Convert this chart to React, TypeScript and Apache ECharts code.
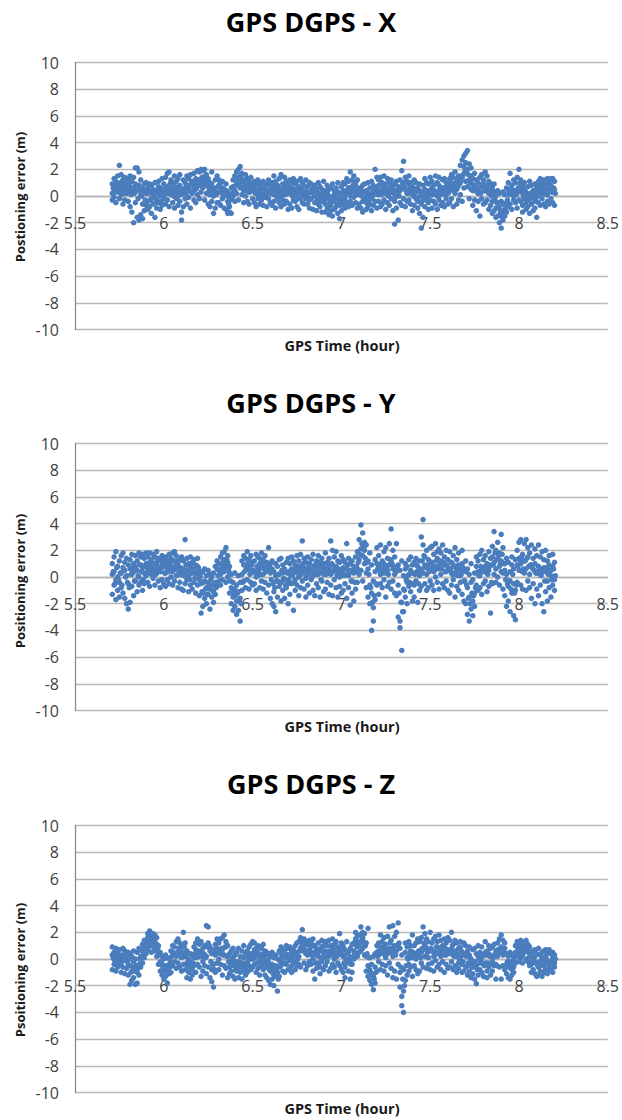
import React, { useEffect, useRef } from "react";
import * as echarts from "echarts";

// Sampling of the epochs: readings every 0.01 h from 5.71 h (3 per epoch),
// plus one extra reading per epoch half a step later
const EPOCH_START = 5.71;
const EPOCH_STEP = 0.01;
const PER_EPOCH = 3;

const X_TICKS = [5.5, 6, 6.5, 7, 7.5, 8, 8.5];
const Y_TICKS = [-10, -8, -6, -4, -2, 0, 2, 4, 6, 8, 10];

const TITLES = ["GPS DGPS - X", "GPS DGPS - Y", "GPS DGPS - Z"];
const Y_NAMES = ["Postioning error (m)", "Positioning error (m)", "Psoitioning error (m)"];
const X_NAME = "GPS Time (hour)";

// X error (m)
const ERR_X = [
  0.9,0.2,-0.3, 1.3,0.5,-0.1, 0.6,1.1,-0.5, 1.5,0.3,0.8, 2.3,0.7,-0.2, 1.0,0.1,1.6, 0.4,1.2,-0.6, 0.8,-0.3,1.4, 0.2,1.0,0.6, 1.3,-0.4,0.5,
  0.7,-0.8,1.5, 0.3,1.1,-1.2, -2.0,0.5,1.4, 2.1,0.9,-0.5, 2.1,-1.6,0.4, 1.8,-1.8,0.8, -1.4,1.2,0.1, -1.7,0.6,-0.6, 0.9,-1.1,0.3, 0.2,1.0,-0.7,
  -0.4,0.6,-1.0, 0.3,-0.8,0.9, -0.2,0.8,-1.3, 0.5,-0.6,0.1, -1.6,0.2,1.0, -0.9,0.4,-0.3, 0.7,-0.5,1.1, -1.0,0.1,0.6, 0.4,-0.7,1.3, 0.9,-0.2,0.3,
  1.4,0.2,-0.6, 0.7,1.7,-0.3, 1.8,0.4,-0.8, 0.1,1.2,0.6, 1.0,-0.5,0.4, 1.5,0.3,-0.9, 0.6,-0.2,1.1, 1.3,0.0,-0.7, -0.4,0.8,1.6, -1.8,0.5,-1.2,
  0.3,-0.8,1.2, 1.0,-0.2,0.6, 0.8,1.5,-0.6, -0.1,0.7,1.3, 1.6,0.4,-0.9, 0.2,1.1,0.9, 1.7,-0.3,0.6, 0.5,1.3,-0.5, 1.9,0.8,0.1, 1.2,-0.2,1.8,
  2.0,1.0,0.3, 1.9,0.6,1.4, 2.0,-0.3,0.9, 1.2,0.2,1.6, 0.7,-0.6,1.3, 0.1,1.0,-0.8, 0.9,-0.4,1.8, -1.3,0.5,0.0, 0.6,-0.9,1.2, 1.5,0.2,-0.5,
  0.8,-0.5,1.2, 0.3,1.0,-0.7, -0.2,0.6,1.1, 0.5,-0.9,0.2, -1.0,0.4,0.9, -1.3,-0.4,0.3, -0.8,0.1,-1.2, 0.6,-1.3,-0.2, 1.2,0.0,0.7, 0.4,1.5,-0.4,
  1.8,0.9,0.2, 1.3,2.0,-0.3, 2.2,0.6,1.5, 1.0,1.7,0.1, 0.4,1.2,-0.5, 1.6,0.7,0.0, 0.8,-0.4,1.3, 1.1,0.3,-0.6, 0.5,1.4,0.9, -0.2,0.9,0.4,
  0.7,-0.5,1.1, 0.2,1.0,-0.8, 1.2,0.4,-0.2, -0.6,0.8,0.1, 0.5,-0.3,1.0, 1.1,0.0,-0.7, -0.1,0.6,0.9, 0.4,-0.8,0.2, 0.9,-0.2,1.2, -0.5,0.3,0.7,
  0.6,-0.7,1.0, 1.5,0.1,-0.4, 0.3,1.1,-0.9, -0.2,0.8,0.4, 1.3,-0.5,0.6, 0.0,1.6,-0.8, 0.9,0.2,-0.3, 1.4,-0.6,0.5, -0.4,0.7,1.1, 0.2,-1.0,0.8,
  1.2,0.3,-0.6, 0.6,-0.9,1.0, -0.3,0.5,1.3, 0.9,-0.4,0.1, 0.2,1.1,-0.8, -1.0,0.4,0.7, 0.5,1.3,-0.2, 1.0,-0.5,0.3, -0.6,0.8,0.0, 0.4,-0.2,1.2,
  0.7,-0.6,0.2, -0.3,1.0,-0.9, 0.4,-0.2,0.9, -1.0,0.3,0.6, 0.8,-0.5,0.0, -0.4,0.5,-1.1, 0.2,1.0,-0.6, -0.8,0.0,0.7, 0.5,-1.2,-0.2, 1.1,-0.4,0.3,
  -0.6,0.4,-1.2, 0.2,-0.9,0.8, -1.4,-0.2,0.5, 0.6,-0.7,-1.1, -0.3,0.9,-1.5, 0.1,-1.0,0.4, -0.8,0.6,-0.2, -1.3,0.3,1.0, -1.7,-0.5,0.2, 0.7,-1.1,-0.3,
  0.4,-0.6,1.0, -0.2,0.9,-0.9, 1.3,0.2,-0.5, 0.6,-0.8,1.1, 1.8,0.0,-0.4, 1.2,0.5,-0.7, -0.1,1.5,0.3, 0.8,-0.5,1.0, 0.2,1.2,-0.9, -0.6,0.6,0.1,
  0.5,-0.9,0.1, -0.4,0.8,-1.2, 0.9,-0.3,0.3, -1.0,0.4,-0.5, 0.2,1.0,-0.8, -0.6,0.6,0.0, 1.1,-0.2,-1.1, 0.3,-0.7,0.8, 2.0,0.5,-0.4, 1.4,-0.9,0.2,
  0.8,-0.4,1.2, 0.1,1.4,-0.8, 1.0,-0.6,0.4, -0.3,0.7,1.5, 0.5,-1.0,0.9, 1.3,0.2,-0.5, -0.7,0.6,1.0, 0.3,1.2,-0.2, -1.1,0.5,0.8, -2.1,0.9,-0.4,
  0.4,-0.9,1.1, -1.8,0.2,0.7, 1.2,-0.5,0.4, 1.9,0.6,-0.7, 2.6,1.0,-0.2, 1.4,-0.8,0.5, 0.2,1.1,-0.4, 0.9,-0.3,1.5, -0.6,0.4,1.0, 0.7,-1.1,0.1,
  0.3,-0.7,1.2, 1.0,-0.2,0.5, -0.9,0.6,-0.4, 0.4,-1.3,0.9, -2.4,0.2,-0.6, -1.6,0.8,0.0, 0.5,-0.8,1.3, -0.3,1.0,0.3, 0.9,-0.5,-1.0, 0.1,1.4,-0.3,
  0.6,-0.9,1.1, -0.4,0.8,0.2, 1.5,0.3,-0.6, 0.0,1.0,-1.0, 0.8,-0.3,1.4, -0.7,0.5,0.1, 1.2,-0.5,0.6, 0.3,1.3,-0.8, -0.2,0.7,1.0, 0.9,-0.6,0.2,
  0.4,1.3,-0.5, 1.0,-0.2,1.6, 0.7,1.4,-0.8, 1.8,0.2,0.9, 0.5,-0.6,1.2, 1.5,0.8,-0.3, 2.3,0.1,1.0, 2.7,1.4,-0.4, 3.0,2.2,0.6, 3.2,2.5,1.1,
  3.4,2.0,0.7, 2.4,1.2,-0.2, 2.1,0.5,1.5, 1.3,-0.7,0.4, 0.8,1.7,-0.3, -1.1,0.5,1.2, 1.0,-0.4,0.2, 0.3,1.4,-1.5, 1.6,-0.2,0.8, -0.6,0.9,1.2,
  1.8,0.4,-0.5, 1.5,-0.3,0.8, 0.2,1.1,-1.0, 0.9,-0.7,0.3, -0.4,0.6,-1.3, 0.3,-1.1,0.9, -0.9,0.0,-1.6, -1.5,-0.5,0.4, -2.0,-0.9,0.2, -2.4,-1.3,-0.4,
  -1.8,-0.6,0.3, -1.0,0.1,-1.5, -0.5,0.6,-1.2, 0.4,-0.8,1.0, 1.7,0.2,-0.6, 0.8,-1.0,0.5, -0.3,1.2,0.0, 1.0,-0.5,0.4, 0.3,1.4,-0.9, 2.0,0.6,-0.3,
  1.2,-0.4,0.3, -0.7,0.8,-1.2, 0.5,-0.2,1.0, -1.0,0.3,-0.5, 0.7,-0.8,0.1, -0.3,1.1,-1.3, 0.2,-0.6,0.8, -1.1,0.4,0.0, 0.9,-0.4,-0.9, -1.6,0.3,0.6,
  0.8,-0.5,1.1, 0.2,1.3,-0.7, 1.0,-0.2,0.5, -0.6,0.7,1.2, 0.4,-0.8,0.9, 1.3,0.1,-0.4, 0.6,1.0,-0.6, -0.2,0.8,1.3, 1.3,0.3,-0.5, 0.5,1.1,-0.7,
];
const ERR_X_MID = [
  0.6,0.3,0.8,0.4,1.0,0.5,0.2,0.7,0.4,0.9,
  0.1,0.6,0.2,0.8,-0.2,0.5,0.0,0.3,-0.3,0.4,
  0.2,-0.3,0.4,-0.1,-0.5,0.3,0.0,-0.4,0.5,0.1,
  0.6,0.2,0.9,0.4,0.0,0.7,0.3,0.5,0.1,0.2,
  0.5,0.2,0.8,0.4,0.9,0.3,1.0,0.6,1.2,0.8,
  1.4,1.1,1.5,0.8,0.4,0.6,0.2,0.5,0.1,0.7,
  0.3,0.5,0.1,0.4,0.0,-0.6,-0.3,0.2,0.5,0.8,
  1.1,0.8,1.3,0.6,0.9,0.4,0.7,0.3,0.8,0.4,
  0.2,0.5,0.0,0.4,0.1,0.6,0.3,-0.1,0.4,0.2,
  0.3,0.7,0.0,0.5,0.2,0.4,0.6,0.1,0.3,0.5,
  0.4,0.0,0.3,0.5,-0.2,0.2,0.6,0.1,0.3,-0.1,
  0.2,-0.2,0.3,0.0,0.4,-0.3,0.1,-0.4,0.2,0.0,
  -0.2,0.1,-0.5,-0.1,-0.4,0.0,-0.6,-0.2,-0.7,-0.1,
  0.1,0.4,0.2,0.6,0.3,0.8,0.4,0.1,0.5,0.2,
  0.0,0.3,-0.2,0.1,-0.3,0.2,0.0,0.4,0.6,0.1,
  0.4,0.1,0.6,0.2,0.5,0.0,0.3,0.7,0.2,-0.1,
  0.3,0.0,0.5,0.9,0.7,0.4,0.2,0.6,0.3,0.0,
  0.2,0.4,-0.1,0.3,-0.4,-0.2,0.3,0.0,0.4,0.2,
  0.1,0.4,0.3,0.0,0.5,0.2,0.6,0.1,0.4,0.3,
  0.6,0.9,0.4,1.0,0.7,1.1,1.3,1.6,1.8,1.9,
  1.6,1.0,0.9,0.6,0.4,0.3,0.6,0.2,0.7,0.4,
  0.6,0.3,0.5,0.0,0.2,-0.3,-0.5,-0.8,-1.2,-1.6,
  -1.2,-0.7,-0.3,0.1,0.5,0.2,0.4,0.1,0.6,0.9,
  0.4,0.0,0.3,-0.2,0.1,0.2,-0.1,0.3,-0.2,0.0,
  0.3,0.6,0.2,0.5,0.1,0.4,0.7,0.3,0.6,0.2,
];

// Y error (m)
const ERR_Y = [
  0.2,-1.3,1.0, -0.6,1.5,0.4, 1.9,-0.2,-1.7, 0.8,-1.0,0.0, -0.4,1.2,-1.5, 1.6,0.3,-0.8, -1.2,0.7,1.8, 0.5,-1.6,1.1, -2.0,0.1,1.4, -2.4,0.9,-0.5,
  -1.9,0.6,1.3, 1.7,-0.7,0.2, 0.4,-1.4,1.0, -0.3,1.6,0.8, 1.2,-1.1,0.5, 0.0,1.8,-0.6, 1.5,-0.4,0.9, -1.0,0.7,1.7, 0.3,1.4,-0.5, 1.8,0.1,1.0,
  0.6,1.5,-0.4, 1.1,-0.7,1.8, 0.2,1.3,0.8, 1.7,-0.1,0.5, -0.6,1.0,1.5, 0.9,0.3,1.9, -0.3,1.4,0.6, 1.2,-0.8,0.4, 0.7,1.6,-0.2, 1.0,-0.5,1.4,
  0.3,1.5,-0.7, 1.2,0.6,-0.2, -0.5,0.9,1.7, 1.4,0.0,0.7, 0.4,1.8,-0.6, 1.9,0.8,-0.3, 0.1,1.2,1.6, 1.0,-0.8,0.5, -0.4,0.7,1.3, 1.5,0.2,-0.9,
  0.6,-1.0,1.2, 2.8,0.4,-0.5, 1.4,-0.2,0.9, 0.1,1.0,-1.1, -0.6,0.8,1.5, 1.1,-0.9,0.3, 0.5,1.3,-0.4, -1.2,0.2,0.9, 0.8,-0.6,1.4, -0.2,0.5,-1.4,
  -2.7,-0.5,0.3, -1.2,0.4,-2.2, -0.3,-1.6,0.6, -2.0,-0.8,0.1, 0.5,-1.3,-0.4, -0.9,-2.4,0.2, -1.5,0.0,-0.6, 0.3,-1.1,-1.9, -0.4,0.8,-1.3, 0.6,-0.7,1.2,
  1.0,-0.3,0.5, 1.5,0.2,-0.6, 0.7,1.8,-0.2, 1.3,0.4,1.9, 2.2,0.9,-0.4, 1.6,0.0,1.1, 0.3,-1.2,0.8, -0.8,-2.0,0.2, -1.5,-0.4,-2.5, -0.9,-2.2,0.3,
  -1.8,-0.6,-2.8, -2.5,-1.1,0.1, -3.3,-1.6,-0.4, 0.2,-1.0,1.2, 0.9,-0.3,1.6, 1.4,0.5,-0.8, -0.2,1.0,1.9, 0.7,-0.9,1.3, 1.6,0.3,-0.4, -0.6,1.1,0.5,
  1.2,-0.5,0.4, 0.0,1.7,-1.0, 1.5,0.6,0.1, -0.8,1.0,1.4, 0.8,-0.3,1.8, 1.3,0.2,-0.9, -0.4,1.6,0.7, 0.5,-1.2,1.1, 2.2,0.9,-0.6, 1.0,-1.6,0.3,
  0.6,-2.0,1.2, -1.1,0.4,-2.2, -2.6,0.1,1.0, 0.8,-1.5,-0.3, -0.7,1.3,0.2, 1.4,-0.4,-1.8, 0.3,-1.0,0.9, -1.6,0.6,-0.2, 1.1,-0.8,0.4, -0.5,1.4,-2.0,
  0.2,-1.3,1.0, 1.5,-0.5,0.6, -2.5,0.3,1.2, 0.9,-1.0,-0.2, -0.6,1.6,0.4, 1.2,0.0,-1.4, 0.5,1.7,-0.8, 2.7,0.8,-0.3, 1.4,-0.9,0.6, -0.1,1.1,-1.5,
  0.7,-0.6,1.5, -1.2,0.4,1.0, 1.3,-0.2,0.5, 0.1,1.7,-1.0, 0.9,-1.4,0.3, -0.5,1.2,0.6, 1.6,0.2,-0.8, -1.5,0.8,1.1, 0.4,-0.3,1.4, 1.0,-1.1,0.2,
  0.6,1.8,-0.9, -0.4,1.1,0.3, 1.4,-1.3,0.7, 2.7,0.2,-0.6, 2.0,0.9,-1.4, -0.2,1.5,0.5, 0.8,-0.8,1.9, -1.5,0.4,1.2, 1.1,0.0,-0.7, 0.3,1.6,-1.2,
  0.7,-1.0,1.3, -0.5,1.1,0.2, 2.5,-1.6,0.6, 0.1,1.4,-0.8, -2.1,0.5,1.0, 1.2,-1.2,-0.3, -1.8,0.8,0.3, 0.4,1.5,-0.9, 1.9,0.6,-0.4, 2.8,1.3,0.2,
  3.9,2.1,0.5, 3.3,1.6,-0.3, 2.6,1.0,2.0, 2.4,0.3,-0.8, 1.2,-1.5,0.6, -2.0,-0.6,1.8, -4.0,-1.2,0.9, -3.3,-0.3,-2.3, 0.4,-1.7,1.3, -0.6,1.0,2.2,
  0.8,-1.3,1.6, 2.4,0.2,-0.5, -0.8,1.2,0.6, 1.9,-0.2,1.0, 0.3,2.2,-1.5, 1.4,-0.7,0.5, -0.4,0.9,2.5, 3.6,1.2,-0.9, 0.6,2.0,-0.3, -1.2,1.5,0.2,
  2.5,0.4,-1.4, -3.0,0.9,-0.6, -3.8,-3.3,0.5, -5.5,-1.9,1.2, -2.6,0.1,-0.9, 0.6,-1.5,1.0, -0.4,0.8,-2.0, 1.3,-0.7,0.2, -1.1,0.5,1.5, 0.3,-1.8,0.9,
  -0.6,1.1,-1.5, 0.9,-0.3,1.4, -1.9,0.4,0.8, 1.2,-1.0,0.1, 3.0,0.6,-0.7, 4.3,2.4,0.3, 1.5,-0.5,0.9, 0.2,2.0,-1.0, 1.3,-0.8,0.6, 2.2,0.5,-0.3,
  1.1,-0.6,2.3, 0.4,1.7,-1.0, 2.5,0.8,0.0, 1.4,-0.4,1.9, 0.6,2.1,-0.9, 1.8,0.2,1.2, -0.5,1.0,2.4, 0.9,-0.8,1.5, 2.0,0.4,-0.3, 1.3,-1.0,0.7,
  0.5,1.9,-1.2, -0.6,1.1,0.3, 1.6,-0.2,0.9, 0.2,-1.5,2.2, 1.3,0.6,-0.7, -1.0,0.9,1.8, 0.7,-0.4,0.1, 2.0,-1.3,1.0, -0.3,0.5,-1.8, 1.2,-2.0,0.4,
  -2.8,-0.8,0.6, -3.3,-1.5,0.2, -2.4,-0.4,1.0, -1.8,-2.9,-0.2, -1.2,0.3,-2.2, 0.8,-0.6,1.5, -1.0,1.2,0.4, 1.7,0.1,-0.8, 0.6,-1.3,2.0, 1.3,0.4,-0.5,
  -0.3,1.6,0.8, 1.0,-1.1,0.3, 0.5,1.9,-0.7, -2.7,0.9,1.4, 1.5,-0.5,2.3, 3.4,1.1,0.2, 2.0,0.6,-0.4, 1.4,2.6,0.0, 0.8,1.8,-0.6, 3.2,1.2,0.4,
  2.2,0.3,-0.9, 1.0,-1.4,0.5, -2.2,0.2,1.4, -0.7,1.1,-1.8, 0.4,-2.6,-0.3, -1.2,0.9,1.5, -2.9,-0.5,0.6, -3.2,1.3,-1.0, 0.9,2.0,-0.4, 2.6,0.5,1.4,
  2.8,1.0,-0.6, 1.7,-0.9,0.4, 0.3,2.5,1.2, 2.8,0.6,-1.0, 1.5,-0.3,2.2, 0.2,1.8,-0.8, 2.4,0.9,-1.6, -0.5,1.4,0.6, 1.0,-2.0,2.1, -0.9,0.3,1.6,
  0.8,-1.4,2.4, -0.6,1.5,0.2, 1.9,-2.0,0.5, -2.6,0.7,1.3, 0.4,-1.1,2.0, 1.2,-0.3,-1.8, -0.8,0.9,1.6, 0.5,-1.5,0.1, 1.7,-0.6,0.8, -0.2,1.1,-1.0,
];
const ERR_Y_MID = [
  0.4,-0.5,0.7,-0.2,0.3,-0.6,0.5,0.0,-0.4,-0.8,
  0.2,0.7,-0.3,0.5,0.1,0.9,0.4,-0.2,0.8,0.3,
  0.9,0.4,1.1,0.6,0.2,1.2,0.5,0.8,1.0,0.3,
  0.8,0.4,1.0,0.5,1.2,0.6,0.9,0.2,0.7,0.4,
  0.1,0.9,0.5,-0.2,0.4,0.6,-0.1,0.3,0.7,0.0,
  -1.1,-0.4,-0.9,-1.3,-0.6,-0.2,-1.0,-0.5,-0.8,0.1,
  0.5,0.9,1.2,0.7,1.3,0.6,-0.3,-0.9,-1.2,-1.4,
  -1.2,-1.8,-2.0,-0.4,0.4,0.8,0.6,0.2,0.9,0.5,
  0.3,0.8,0.5,0.2,1.0,0.6,0.4,0.9,0.7,-0.2,
  -0.5,-0.8,-0.3,0.2,-0.4,0.5,-0.1,-0.6,0.3,-0.2,
  0.5,0.1,-0.4,0.6,0.3,0.8,0.2,1.0,0.4,0.1,
  0.3,0.6,0.0,0.8,0.2,0.5,0.9,-0.2,0.7,0.4,
  0.2,0.8,0.5,1.0,0.4,0.7,0.1,0.6,0.3,0.5,
  0.1,0.6,0.9,0.3,-0.3,0.5,-0.4,0.8,1.1,1.7,
  2.5,2.2,1.4,1.1,0.2,-0.8,-1.9,-1.4,-0.5,0.6,
  0.5,1.0,0.3,0.9,0.6,0.2,1.3,1.0,0.8,0.4,
  0.7,-1.2,-1.9,-2.6,-1.0,-0.2,0.1,-0.4,0.3,-0.5,
  0.2,0.4,-0.5,0.3,1.2,1.6,0.7,0.9,0.4,1.1,
  0.8,0.5,1.2,0.7,1.0,0.6,1.1,0.4,0.9,0.5,
  0.6,0.2,0.8,0.4,0.1,0.5,0.2,0.7,-0.3,-0.6,
  -1.6,-2.0,-1.2,-1.4,-0.8,0.3,0.1,0.8,0.4,0.6,
  0.6,0.2,0.8,-0.4,0.9,1.8,1.3,1.6,1.0,1.7,
  1.0,-0.2,-0.5,-0.3,-0.9,0.2,-1.2,-0.6,0.8,1.3,
  1.5,0.6,1.2,1.4,0.8,0.9,0.7,0.5,0.3,0.4,
  0.6,0.1,0.4,-0.3,0.7,0.2,0.5,-0.2,0.6,0.1,
];

// Z error (m)
const ERR_Z = [
  -0.8,0.3,0.9, 0.5,-0.4,0.0, -0.2,0.8,-0.9, 0.6,-0.6,0.2, -0.5,0.1,0.7, 0.3,-1.0,-0.3, 0.8,0.0,-0.6, -0.1,0.6,-1.1, 0.4,-0.7,0.1, -0.4,0.5,-1.2,
  -1.9,-0.5,0.4, -0.9,0.2,-1.6, -1.4,-0.2,0.6, -1.9,0.0,-0.7, -1.8,-1.0,0.5, -0.4,0.8,-1.2, 0.2,-0.6,0.7, 0.6,-0.3,1.1, 0.9,0.1,1.4, 1.2,0.4,0.8,
  1.6,0.7,1.9, 2.1,1.0,1.4, 1.7,0.5,1.2, 1.9,0.9,1.5, 1.3,0.6,1.8, 1.1,0.2,1.6, 0.4,-0.4,1.0, -0.2,-0.9,0.5, -1.2,-0.4,0.2, -0.8,-1.5,0.0,
  -1.3,-0.5,0.3, -1.8,-0.8,0.1, -1.1,0.0,-0.4, -0.3,0.6,-1.0, 0.5,-0.5,1.0, 0.9,-0.2,0.3, 0.2,1.3,-0.7, 1.5,0.4,-0.3, 0.7,-0.6,1.2, 1.0,0.1,-0.9,
  2.0,0.5,-0.4, 1.2,-0.8,0.2, -0.3,-1.4,0.6, -1.0,0.0,-0.6, 0.4,-1.5,-0.2, -0.8,0.3,-1.2, 0.1,0.9,-0.5, 0.7,-1.0,1.2, -0.4,0.5,1.5, 1.1,-0.6,0.2,
  0.5,-1.3,1.3, -0.2,0.8,-0.9, 1.0,-0.5,0.3, 2.5,0.2,-1.1, 2.4,1.2,-0.6, 0.6,-1.4,0.9, -0.8,0.4,-1.7, -2.1,-0.4,0.7, 0.3,-1.0,1.1, 0.8,-0.3,1.5,
  1.2,0.0,-0.8, 0.4,1.5,-0.4, 1.6,0.7,-1.2, 1.8,0.3,-0.5, 0.9,-0.7,1.3, 0.2,1.0,-1.4, -0.6,0.4,-1.1, 0.6,-0.9,-0.2, -1.3,0.1,0.8, -0.4,-1.5,0.3,
  -0.9,0.5,-0.2, 0.8,-0.6,-1.4, -0.3,0.2,-1.0, -1.5,0.6,-0.5, 0.1,-0.9,1.0, -0.7,0.4,-1.2, 0.6,-0.3,-1.0, -0.5,0.9,0.2, 1.1,-0.8,0.4, 0.0,1.3,-0.6,
  0.7,-0.4,1.2, -1.0,0.3,0.8, 0.5,-0.7,1.0, -0.2,0.9,-1.2, 0.8,-0.5,0.3, -0.8,0.4,1.1, 0.2,-1.2,0.6, -0.6,0.5,-1.4, -1.6,-0.3,0.4, -0.9,0.2,-1.9,
  -0.4,-1.5,0.5, -2.0,-0.8,0.1, -1.2,0.3,-0.5, -2.4,-1.0,0.0, -0.6,0.6,-1.3, 0.4,-0.5,0.9, -0.9,0.2,0.7, 0.6,-0.3,-1.0, -0.4,1.0,0.1, 0.8,-0.8,0.3,
  0.2,-0.7,0.9, -0.5,0.6,-1.0, 0.7,-0.2,0.4, -0.3,1.0,-0.8, 0.5,-0.5,1.2, 1.3,0.2,-0.4, 0.8,1.6,-0.6, 2.2,0.6,1.2, 1.0,-0.3,1.5, 0.4,1.3,-0.8,
  1.1,0.3,-0.5, 0.6,1.4,-0.2, -0.4,0.9,1.2, 1.5,0.0,-0.9, -1.5,0.5,1.0, 0.3,-0.7,0.8, 1.2,-0.3,0.2, -0.6,0.7,-1.1, 0.9,-0.2,1.4, 0.1,1.0,-0.8,
  0.6,-0.5,1.3, -0.2,1.0,0.3, 1.4,0.2,-0.9, 0.5,-0.7,1.0, -0.4,0.8,1.5, 1.1,0.0,-0.6, 0.3,1.3,-1.0, 0.9,-0.3,0.5, 1.9,0.4,-0.5, -0.8,0.6,1.2,
  0.2,-1.0,1.0, -0.6,0.7,-1.4, 1.3,-0.2,0.4, -0.9,0.5,-0.3, 0.8,-1.5,0.1, -0.4,1.1,-1.0, 0.6,0.0,1.2, 1.5,0.4,2.0, 0.9,1.7,0.2, 1.8,1.0,0.5,
  2.4,1.3,0.6, 1.6,2.0,0.8, 1.1,0.3,1.9, 0.2,-0.9,1.2, 2.3,-0.5,-1.3, -0.8,-1.6,0.1, -1.9,-0.4,-1.1, -2.3,-1.3,0.2, -0.6,-1.8,0.4, 0.5,-0.9,1.0,
  1.2,-0.2,0.6, 1.8,0.4,-0.8, 0.7,1.3,-0.4, -0.9,0.9,1.6, 1.1,0.1,-0.5, 0.4,1.7,-1.2, 2.4,0.8,-0.3, 1.4,-0.7,0.5, 2.5,0.2,-1.4, 1.0,-0.9,1.7,
  2.0,0.6,-1.5, 2.7,-0.4,1.1, -2.1,0.8,-1.0, -2.8,-3.5,0.3, -4.0,-2.4,-0.8, -1.6,0.5,1.2, 0.9,-1.2,0.1, -0.4,1.3,-0.9, 0.6,-0.6,1.0, 1.8,0.2,-1.3,
  -0.5,1.0,0.4, 1.2,-0.8,0.0, 0.3,1.5,-1.1, -0.9,0.6,1.3, 1.6,-0.3,0.5, 2.4,0.7,-0.6, 1.0,1.9,0.2, -0.7,0.8,1.5, 1.3,0.1,-0.4, 0.6,2.0,-0.8,
  1.2,-0.3,0.6, 0.2,1.5,-0.9, 1.7,0.5,-0.1, -0.6,0.9,1.3, 0.8,-0.4,1.8, 1.4,0.2,-0.8, -0.2,1.0,0.5, 0.9,-1.0,1.5, 0.3,1.2,-0.4, 1.6,0.6,-0.7,
  0.4,1.4,-0.6, 2.0,0.7,-0.2, -0.8,0.3,1.1, 0.6,-0.5,1.4, 1.2,-1.0,0.2, -0.3,0.8,-0.7, 0.9,0.1,1.3, -1.0,0.5,-0.4, 0.3,1.2,-0.9, 1.0,-0.6,0.4,
  -0.5,0.6,-1.2, 0.3,-0.9,0.9, -1.4,0.0,-0.4, 0.7,-0.6,-1.1, -0.2,0.8,-1.5, -1.85,-0.5,0.4, 0.2,-1.2,1.0, -0.8,0.5,-0.3, 0.9,-1.0,0.1, -0.4,0.3,-1.3,
  1.3,-0.3,0.5, -0.9,0.6,-1.4, 0.4,-0.6,1.0, -1.2,0.2,0.8, 0.9,-0.9,-0.2, -0.5,1.1,0.3, 0.6,-1.5,-0.4, 1.2,0.2,0.7, 0.5,1.5,-0.6, 1.8,-1.5,0.9,
  1.4,0.3,-0.5, 0.8,-0.8,1.2, -0.4,0.4,-1.1, -1.4,-0.5,0.2, -1.5,-0.2,0.5, -0.8,-1.2,0.3, 0.0,-0.6,-1.0, 0.5,-0.3,1.0, 0.9,0.2,1.3, 1.2,0.4,-0.2,
  0.8,1.4,0.1, 0.3,1.0,-0.3, 1.2,0.5,0.9, 1.4,0.0,0.6, 0.7,1.1,-0.2, 0.2,0.9,-0.5, -0.4,0.5,-1.0, 0.6,-0.8,-0.2, -1.1,0.2,0.7, -0.3,-1.3,0.4,
  0.8,-0.6,-1.2, -0.9,0.3,-0.2, 0.5,-1.3,0.0, -0.5,0.6,-1.0, 0.2,-0.8,0.7, -1.1,-0.3,0.4, 0.7,-0.5,-0.9, -0.2,0.4,-0.7, 0.5,-1.0,0.1, -0.6,0.3,-0.3,
];
const ERR_Z_MID = [
  0.1,-0.2,0.3,0.0,-0.3,0.2,-0.1,0.3,-0.2,0.0,
  -1.0,-0.6,-0.9,-0.5,-0.7,0.0,0.1,0.4,0.6,0.8,
  1.2,1.5,1.0,1.3,1.1,0.8,0.3,-0.3,-0.6,-0.9,
  -0.9,-1.1,-0.6,0.2,0.3,0.4,0.5,0.8,0.2,0.5,
  0.9,0.3,-0.5,-0.4,-0.7,-0.3,0.4,0.1,0.6,0.3,
  0.2,0.4,0.1,0.9,1.0,-0.2,-0.4,-0.8,0.4,0.5,
  0.6,0.8,0.3,0.9,0.2,-0.2,-0.4,0.0,-0.5,-0.8,
  -0.4,-0.2,-0.6,-0.3,0.2,-0.4,-0.1,0.3,0.0,0.4,
  0.1,-0.3,0.3,0.0,0.2,-0.2,-0.4,-0.1,-0.8,-0.6,
  -1.1,-1.3,-0.7,-1.5,-0.2,0.1,-0.3,0.2,0.3,-0.1,
  0.3,-0.1,0.2,0.4,0.0,0.6,0.9,1.3,0.7,0.5,
  0.6,0.9,0.3,0.5,-0.3,0.4,0.6,0.1,0.5,0.3,
  0.2,0.5,0.6,0.3,0.7,0.4,0.2,0.6,0.8,0.3,
  -0.3,0.0,0.4,-0.2,-0.4,0.2,0.5,1.0,1.2,1.3,
  1.7,1.3,1.0,0.4,0.1,-1.0,-1.2,-1.5,-1.0,0.2,
  0.6,0.9,0.5,0.3,0.7,0.5,1.2,0.6,0.9,0.3,
  1.0,1.2,-0.6,-1.5,-2.0,-0.5,0.0,0.3,0.1,0.5,
  0.2,0.4,0.6,0.1,0.8,1.2,0.9,0.5,0.7,0.8,
  0.6,0.3,0.9,0.4,0.7,0.6,0.3,0.8,0.5,0.7,
  0.5,1.0,0.2,0.5,0.3,0.0,0.6,-0.2,0.4,0.2,
  -0.3,0.1,-0.6,-0.2,-0.5,-0.8,0.0,-0.2,0.2,-0.5,
  0.3,-0.3,0.2,-0.4,0.1,0.3,-0.5,0.6,0.8,0.5,
  0.7,0.4,-0.2,-0.6,-0.7,-0.5,-0.3,0.3,0.6,0.8,
  0.9,0.6,0.8,0.7,0.5,0.4,-0.1,0.1,-0.3,-0.5,
  -0.2,-0.4,-0.5,-0.1,0.0,-0.4,-0.2,-0.3,-0.2,0.0,
];

const SERIES = [
  { main: ERR_X, mid: ERR_X_MID },
  { main: ERR_Y, mid: ERR_Y_MID },
  { main: ERR_Z, mid: ERR_Z_MID },
];

function epochTime(k: number, shift: number) {
  return Math.round((EPOCH_START + k * EPOCH_STEP + shift) * 1000) / 1000;
}

function toPoints(main: number[], mid: number[]): [number, number][] {
  const pts: [number, number][] = main.map((v, i) => [epochTime(Math.floor(i / PER_EPOCH), 0), v]);
  mid.forEach((v, k) => pts.push([epochTime(k, EPOCH_STEP / 2), v]));
  return pts;
}

const FONT = "'Open Sans', 'Liberation Sans', sans-serif";
const PLOT_TOPS = [62.5, 443.5, 825.5];
const PLOT_H = 267;
const PLOT_LEFT = 75;
const PLOT_RIGHT = 13;
const TITLE_TOPS = [8, 389, 770];
const YNAME_Y = [197, 581, 970];
const XNAME_OFF = 16;

export default function App() {
  const ref = useRef<HTMLDivElement>(null);
  useEffect(() => {
    if (!ref.current) return;
    const chart = echarts.init(ref.current, null, { renderer: "svg" });
    const grid = PLOT_TOPS.map((top) => ({
      left: PLOT_LEFT,
      right: PLOT_RIGHT,
      top,
      height: PLOT_H,
    }));
    const xAxis = PLOT_TOPS.map((_, i) => ({
      type: "value",
      gridIndex: i,
      position: "bottom",
      offset: -PLOT_H / 2, // axis crosses the value axis at 0
      min: X_TICKS[0],
      max: X_TICKS[X_TICKS.length - 1],
      interval: 0.5,
      axisLine: { show: true, onZero: false, lineStyle: { color: "#b5b5b5", width: 1.3 } },
      axisTick: { show: false },
      splitLine: { show: false },
      axisLabel: {
        color: "#404040",
        fontSize: 16,
        fontFamily: FONT,
        margin: 19,
        showMinLabel: true,
        showMaxLabel: true,
      },
    }));
    const yAxis = PLOT_TOPS.map((_, i) => ({
      type: "value",
      gridIndex: i,
      min: Y_TICKS[0],
      max: Y_TICKS[Y_TICKS.length - 1],
      interval: 2,
      axisLine: { show: true, onZero: false, lineStyle: { color: "#8c8c8c", width: 1.3 } },
      axisTick: { show: false },
      splitLine: { show: true, lineStyle: { color: "#b8b8b8", width: 1.3 } },
      axisLabel: { color: "#404040", fontSize: 16, fontFamily: FONT, margin: 16 },
    }));
    const series = SERIES.map((s, i) => ({
      type: "scatter",
      xAxisIndex: i,
      yAxisIndex: i,
      data: toPoints(s.main, s.mid),
      symbol: "circle",
      symbolSize: 5.5,
      itemStyle: { color: "#4a7dbd", opacity: 1 },
      silent: true,
    }));
    const title = TITLES.map((t, i) => ({
      text: t,
      left: "center",
      top: TITLE_TOPS[i],
      padding: 0,
      textStyle: { fontFamily: FONT, fontWeight: "bold", fontSize: 27, color: "#000" },
    }));
    const graphic: any[] = [];
    PLOT_TOPS.forEach((top, i) => {
      graphic.push({
        type: "text",
        x: 20,
        y: YNAME_Y[i],
        rotation: Math.PI / 2,
        style: {
          text: Y_NAMES[i],
          fontFamily: FONT,
          fontWeight: "bold",
          fontSize: 13,
          fill: "#1a1a1a",
          align: "center",
          verticalAlign: "middle",
        },
      });
      graphic.push({
        type: "text",
        x: PLOT_LEFT + (622 - PLOT_LEFT - PLOT_RIGHT) / 2,
        y: top + PLOT_H + XNAME_OFF,
        style: {
          text: X_NAME,
          fontFamily: FONT,
          fontWeight: "bold",
          fontSize: 14.5,
          fill: "#1a1a1a",
          align: "center",
          verticalAlign: "middle",
        },
      });
    });
    chart.setOption({
      animation: false,
      backgroundColor: "#fff",
      title,
      grid,
      xAxis,
      yAxis,
      series,
      graphic,
    });
    return () => chart.dispose();
  }, []);
  return (
    <div
      ref={ref}
      style={{ position: "absolute", left: 0, top: 0, width: 622, height: 1120 }}
    />
  );
}
